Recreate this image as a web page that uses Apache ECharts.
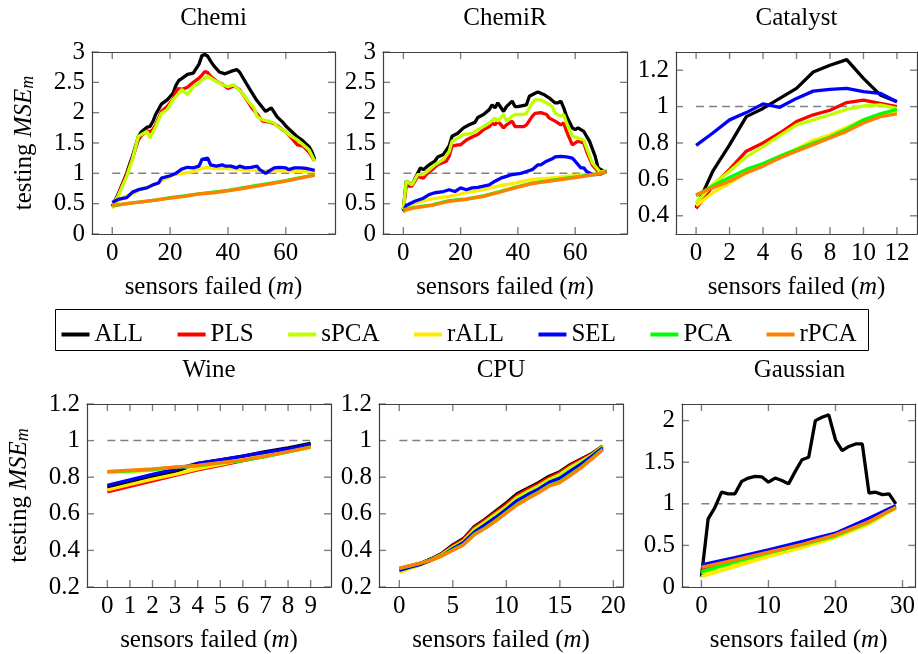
<!DOCTYPE html>
<html>
<head>
<meta charset="utf-8">
<script src="https://cdn.jsdelivr.net/npm/echarts@6/dist/echarts.min.js"></script>
<style>
  html, body { margin: 0; padding: 0; background: #fff; }
  #main { width: 918px; height: 654px; }
</style>
</head>
<body>
<div id="main"></div>
<script>
const methods = ['ALL', 'PLS', 'sPCA', 'rALL', 'SEL', 'PCA', 'rPCA']
const colors = ['#000000', '#ff0000', '#bfff00', '#ffeb00', '#0000ff', '#00ff00', '#ff8000']

// Chemi
const chemiAll = [[0,0.46],[2,0.65],[5,1.0],[6,1.15],[7,1.28],[9,1.6],[10,1.68],[12,1.76],[13,1.77],[14,1.85],[15,1.97],[17,2.14],[19,2.21],[21,2.32],[22,2.45],[23,2.53],[24,2.56],[26,2.63],[28,2.65],[30,2.8],[31,2.94],[32,2.96],[33,2.93],[34,2.85],[35,2.78],[37,2.67],[39,2.64],[41,2.68],[43,2.71],[44,2.67],[46,2.51],[48,2.35],[50,2.2],[52,2.08],[53,2.02],[55,2.08],[57,1.93],[59,1.84],[60,1.78],[62,1.69],[64,1.6],[66,1.53],[68,1.44],[69,1.36],[70,1.23]]
const chemiPls = [[0,0.45],[2,0.64],[5,0.98],[7,1.25],[9,1.55],[10,1.62],[12,1.7],[13,1.68],[14,1.72],[15,1.8],[17,2.02],[19,2.1],[21,2.22],[22,2.35],[23,2.4],[24,2.38],[26,2.42],[28,2.5],[30,2.57],[31,2.62],[32,2.68],[33,2.66],[34,2.6],[36,2.52],[38,2.47],[40,2.4],[42,2.44],[44,2.38],[46,2.25],[48,2.1],[50,1.98],[52,1.86],[54,1.85],[56,1.82],[58,1.75],[60,1.68],[62,1.58],[64,1.47],[66,1.45],[68,1.35],[70,1.2]]
const chemiSpca = [[0,0.48],[2,0.62],[5,0.95],[7,1.23],[9,1.61],[12,1.69],[13,1.58],[15,1.77],[17,1.99],[19,2.05],[21,2.21],[23,2.32],[24,2.38],[26,2.3],[28,2.43],[30,2.49],[31,2.54],[33,2.6],[35,2.54],[37,2.49],[38,2.46],[40,2.43],[42,2.46],[43,2.41],[45,2.32],[47,2.19],[49,2.08],[50,1.94],[52,1.88],[54,1.86],[56,1.83],[57,1.77],[59,1.72],[61,1.64],[63,1.58],[64,1.55],[66,1.47],[68,1.39],[70,1.2]]
const chemiRall = [[0,0.42],[3,0.58],[5,0.63],[7,0.66],[10,0.74],[14,0.8],[17,0.88],[21,0.97],[24,1.0],[28,1.03],[31,1.08],[33,1.1],[35,1.08],[40,1.08],[45,1.06],[50,1.05],[55,1.04],[60,1.04],[65,1.03],[70,1.03]]
const chemiSel = [[0,0.52],[2,0.57],[5,0.6],[7,0.69],[9,0.73],[12,0.76],[14,0.81],[16,0.84],[17,0.92],[20,0.96],[22,1.0],[24,1.07],[26,1.1],[28,1.09],[30,1.12],[31,1.23],[33,1.25],[34,1.14],[36,1.12],[38,1.14],[39,1.12],[41,1.12],[43,1.09],[44,1.12],[46,1.09],[48,1.1],[50,1.12],[51,1.06],[53,1.0],[54,1.03],[56,1.09],[58,1.1],[60,1.09],[61,1.06],[63,1.09],[65,1.09],[67,1.08],[70,1.05]]
const chemiPca = [[0,0.46],[5,0.5],[10,0.53],[15,0.56],[20,0.6],[25,0.63],[30,0.66],[35,0.69],[40,0.72],[45,0.76],[50,0.8],[55,0.84],[60,0.88],[65,0.93],[70,0.97]]
const chemiRpca = [[0,0.47],[5,0.5],[10,0.53],[15,0.56],[20,0.59],[25,0.62],[30,0.66],[35,0.68],[40,0.71],[45,0.75],[50,0.79],[55,0.83],[60,0.87],[65,0.92],[70,0.97]]

// ChemiR
const chemiRAll = [[0,0.4],[1,0.87],[3,0.81],[5,1.0],[6,1.09],[7,1.06],[9,1.14],[11,1.2],[12,1.27],[14,1.31],[16,1.45],[17,1.61],[19,1.66],[21,1.75],[23,1.8],[25,1.84],[26,1.92],[28,1.97],[30,2.05],[31,2.13],[32,2.08],[33,2.16],[35,2.02],[36,2.1],[38,2.19],[39,2.1],[40,2.1],[43,2.13],[44,2.27],[46,2.32],[47,2.34],[49,2.3],[51,2.24],[53,2.16],[54,2.16],[55,2.19],[56,2.08],[57,1.94],[59,1.75],[60,1.72],[61,1.75],[63,1.69],[65,1.53],[67,1.28],[68,1.09],[70,1.03],[71,1.03]]
const chemiRPls = [[0,0.4],[1,0.79],[3,0.79],[5,0.95],[7,0.92],[8,0.98],[10,1.06],[12,1.14],[15,1.2],[16,1.28],[17,1.45],[19,1.47],[20,1.47],[22,1.55],[24,1.6],[26,1.64],[28,1.72],[30,1.77],[31,1.83],[32,1.8],[33,1.86],[35,1.75],[36,1.8],[38,1.86],[39,1.77],[42,1.77],[43,1.8],[45,1.94],[46,1.99],[48,2.0],[50,1.97],[51,1.91],[53,1.86],[55,1.8],[56,1.83],[57,1.69],[59,1.47],[61,1.53],[63,1.5],[64,1.36],[66,1.14],[68,1.03],[70,1.02],[71,1.03]]
const chemiRSpca = [[0,0.4],[1,0.87],[3,0.81],[5,0.98],[7,0.98],[9,1.06],[11,1.14],[14,1.23],[16,1.36],[17,1.53],[19,1.58],[21,1.64],[24,1.66],[26,1.72],[28,1.77],[30,1.83],[32,1.91],[33,1.86],[35,1.97],[36,1.86],[38,1.94],[39,1.97],[42,1.97],[43,1.99],[45,2.16],[46,2.21],[48,2.21],[50,2.16],[52,2.1],[53,1.99],[55,1.94],[56,1.97],[57,1.83],[59,1.61],[61,1.58],[63,1.55],[64,1.42],[66,1.17],[68,1.06],[69,1.0],[71,1.03]]
const chemiRRall = [[0,0.35],[4,0.51],[10,0.58],[16,0.62],[22,0.68],[28,0.73],[33,0.79],[39,0.84],[45,0.9],[51,0.92],[57,0.95],[63,0.98],[68,1.0],[71,1.05]]
const chemiRSel = [[0,0.37],[1,0.47],[4,0.54],[7,0.59],[9,0.65],[11,0.68],[14,0.7],[16,0.73],[18,0.7],[20,0.76],[22,0.73],[24,0.76],[26,0.77],[28,0.79],[30,0.81],[32,0.87],[34,0.92],[36,0.95],[38,0.98],[41,1.0],[43,1.03],[45,1.06],[47,1.14],[48,1.14],[50,1.2],[52,1.24],[53,1.27],[55,1.28],[57,1.27],[59,1.25],[60,1.2],[62,1.09],[63,1.09],[64,1.03],[66,0.98],[67,0.98],[69,0.99],[71,1.03]]
const chemiRPca = [[0,0.4],[4,0.44],[10,0.48],[16,0.55],[22,0.58],[28,0.63],[33,0.69],[39,0.77],[45,0.84],[51,0.88],[57,0.92],[63,0.96],[68,0.99],[71,1.02]]
const chemiRRpca = [[0,0.39],[4,0.43],[10,0.47],[16,0.54],[22,0.57],[28,0.62],[33,0.68],[39,0.76],[45,0.83],[51,0.87],[57,0.91],[63,0.95],[68,0.99],[71,1.02]]

// Catalyst (m = 0..12)
const catAll = [0.445,0.645,0.79,0.945,0.99,1.045,1.1,1.19,1.227,1.258,1.155,1.064,1.027]
const catPls = [0.44,0.564,0.655,0.755,0.8,0.855,0.918,0.955,0.98,1.022,1.036,1.018,1.0]
const catSpca = [0.47,0.573,0.645,0.724,0.78,0.84,0.9,0.927,0.955,0.985,1.004,1.01,0.99]
const catRall = [0.455,0.527,0.58,0.636,0.68,0.727,0.767,0.815,0.845,0.887,0.927,0.945,0.973]
const catSel = [0.787,0.855,0.927,0.967,1.015,0.996,1.045,1.085,1.095,1.1,1.082,1.073,1.027]
const catPca = [0.51,0.564,0.61,0.655,0.687,0.727,0.764,0.8,0.833,0.876,0.927,0.96,0.985]
const catRpca = [0.515,0.555,0.59,0.636,0.673,0.718,0.755,0.79,0.827,0.864,0.91,0.945,0.96]

// Wine (m = 0..9)
const wineAll = [0.745,0.77,0.8,0.83,0.875,0.895,0.915,0.94,0.96,0.985]
const winePls = [0.72,0.75,0.78,0.81,0.84,0.865,0.89,0.915,0.94,0.965]
const wineSpca = [0.825,0.83,0.838,0.85,0.86,0.875,0.895,0.915,0.94,0.965]
const wineRall = [0.73,0.76,0.79,0.816,0.845,0.87,0.895,0.92,0.94,0.962]
const wineSel = [0.756,0.785,0.815,0.843,0.876,0.895,0.915,0.935,0.955,0.98]
const winePca = [0.83,0.835,0.842,0.855,0.862,0.878,0.89,0.912,0.938,0.965]
const wineRpca = [0.83,0.838,0.845,0.855,0.865,0.88,0.895,0.915,0.94,0.965]

// CPU (m = 0..19)
const cpuAll = [0.3,0.315,0.33,0.355,0.385,0.43,0.465,0.53,0.57,0.615,0.66,0.71,0.74,0.77,0.805,0.83,0.87,0.9,0.93,0.97]
const cpuPls = [0.3,0.313,0.328,0.352,0.382,0.425,0.46,0.525,0.565,0.608,0.652,0.7,0.733,0.763,0.798,0.825,0.865,0.895,0.927,0.97]
const cpuSpca = [0.298,0.312,0.327,0.35,0.378,0.418,0.452,0.515,0.555,0.598,0.64,0.69,0.722,0.752,0.788,0.815,0.855,0.888,0.922,0.968]
const cpuRall = [0.28,0.3,0.32,0.345,0.37,0.405,0.435,0.49,0.525,0.565,0.605,0.65,0.685,0.718,0.755,0.78,0.82,0.86,0.905,0.955]
const cpuSel = [0.29,0.308,0.324,0.347,0.372,0.41,0.443,0.5,0.54,0.58,0.625,0.672,0.705,0.735,0.772,0.795,0.835,0.873,0.915,0.96]
const cpuPca = [0.302,0.316,0.33,0.348,0.372,0.402,0.432,0.488,0.522,0.563,0.608,0.652,0.686,0.718,0.755,0.775,0.815,0.855,0.903,0.952]
const cpuRpca = [0.302,0.317,0.331,0.347,0.37,0.4,0.43,0.485,0.52,0.56,0.605,0.648,0.683,0.715,0.752,0.77,0.81,0.852,0.9,0.95]

// Gaussian
const gauAll = [[0,0.125],[1,0.82],[2,0.955],[3,1.14],[4,1.12],[5,1.12],[6,1.27],[7,1.31],[8,1.33],[9,1.325],[10,1.26],[11,1.31],[12,1.28],[13,1.24],[14,1.39],[15,1.53],[16,1.56],[17,2.0],[18,2.04],[19,2.07],[20,1.77],[21,1.64],[22,1.69],[23,1.72],[24,1.72],[25,1.13],[26,1.14],[27,1.11],[28,1.12],[29,1.0]]
const gauPls = [[0,0.2],[5,0.3],[10,0.405],[15,0.505],[20,0.612],[25,0.775],[29,0.955]]
const gauSpca = [[0,0.165],[5,0.285],[10,0.39],[15,0.495],[20,0.605],[25,0.77],[29,0.952]]
const gauRall = [[0,0.125],[5,0.245],[10,0.365],[15,0.474],[20,0.594],[25,0.755],[29,0.95]]
const gauSel = [[0,0.265],[5,0.353],[10,0.446],[15,0.546],[20,0.647],[25,0.827],[29,0.98]]
const gauPca = [[0,0.185],[5,0.305],[10,0.41],[15,0.508],[20,0.615],[25,0.78],[29,0.955]]
const gauRpca = [[0,0.237],[5,0.325],[10,0.418],[15,0.514],[20,0.627],[25,0.787],[29,0.956]]

const FONT = 'Liberation Serif'
const FS = 25

function idx(arr) {
  return arr.map((v, i) => [i, v])
}

const panels = [
  { title: 'Chemi', box: [92, 52, 243, 182], x: [-7, 77, [0, 20, 40, 60]], y: [0, 3, [0, 0.5, 1, 1.5, 2, 2.5, 3]], dash: 70, yName: true,
    data: [chemiAll, chemiPls, chemiSpca, chemiRall, chemiSel, chemiPca, chemiRpca] },
  { title: 'ChemiR', box: [383, 52, 244, 182], x: [-7.1, 78.1, [0, 20, 40, 60]], y: [0, 3, [0, 0.5, 1, 1.5, 2, 2.5, 3]], dash: 71,
    data: [chemiRAll, chemiRPls, chemiRSpca, chemiRRall, chemiRSel, chemiRPca, chemiRRpca] },
  { title: 'Catalyst', box: [676, 52, 241, 182], x: [-1.2, 13.2, [0, 2, 4, 6, 8, 10, 12]], y: [0.3, 1.3, [0.4, 0.6, 0.8, 1, 1.2]], dash: 12,
    data: [catAll, catPls, catSpca, catRall, catSel, catPca, catRpca].map(idx) },
  { title: 'Wine', box: [87, 404, 244, 183], x: [-0.9, 9.9, [0, 1, 2, 3, 4, 5, 6, 7, 8, 9]], y: [0.2, 1.2, [0.2, 0.4, 0.6, 0.8, 1, 1.2]], dash: 9, yName: true,
    data: [wineAll, winePls, wineSpca, wineRall, wineSel, winePca, wineRpca].map(idx) },
  { title: 'CPU', box: [379, 404, 244, 183], x: [-1.9, 20.9, [0, 5, 10, 15, 20]], y: [0.2, 1.2, [0.2, 0.4, 0.6, 0.8, 1, 1.2]], dash: 19,
    data: [cpuAll, cpuPls, cpuSpca, cpuRall, cpuSel, cpuPca, cpuRpca].map(idx) },
  { title: 'Gaussian', box: [682, 404, 235, 183], x: [-2.9, 31.9, [0, 10, 20, 30]], y: [0, 2.2, [0, 0.5, 1, 1.5, 2]], dash: 29,
    data: [gauAll, gauPls, gauSpca, gauRall, gauSel, gauPca, gauRpca] }
]

const labelStyle = { fontFamily: FONT, fontSize: FS, color: '#000' }
const tickColor = '#808080'
const TICK = 7

function frameLine() {
  return { show: true, onZero: false, lineStyle: { color: '#404040', width: 1.2 } }
}

// inward ticks on both opposite edges, placed through the axes' own scales
function tickSeries(i, p, dir) {
  const vals = dir === 'x' ? p.x[2] : p.y[2]
  return {
    type: 'custom',
    xAxisIndex: i * 2,
    yAxisIndex: i * 2,
    silent: true,
    clip: false,
    z: 0,
    data: vals.map(v => dir === 'x' ? [v, p.y[0]] : [p.x[0], v]),
    renderItem: function (params, api) {
      const st = { stroke: tickColor, lineWidth: 1.4 }
      if (dir === 'x') {
        const v = api.value(0)
        const b = api.coord([v, p.y[0]])
        const t = api.coord([v, p.y[1]])
        return { type: 'group', children: [
          { type: 'line', shape: { x1: b[0], y1: b[1], x2: b[0], y2: b[1] - TICK }, style: st },
          { type: 'line', shape: { x1: t[0], y1: t[1], x2: t[0], y2: t[1] + TICK }, style: st }
        ] }
      }
      const v = api.value(1)
      const l = api.coord([p.x[0], v])
      const r = api.coord([p.x[1], v])
      return { type: 'group', children: [
        { type: 'line', shape: { x1: l[0], y1: l[1], x2: l[0] + TICK, y2: l[1] }, style: st },
        { type: 'line', shape: { x1: r[0], y1: r[1], x2: r[0] - TICK, y2: r[1] }, style: st }
      ] }
    }
  }
}

const grid = []
const xAxis = []
const yAxis = []
const series = []
const graphic = []

panels.forEach((p, i) => {
  grid.push({ left: p.box[0], top: p.box[1], width: p.box[2], height: p.box[3] })
  xAxis.push({
    type: 'value', gridIndex: i, min: p.x[0], max: p.x[1],
    position: 'bottom',
    splitLine: { show: false },
    axisLine: frameLine(),
    axisTick: { show: false },
    axisLabel: Object.assign({ customValues: p.x[2], margin: 7 }, labelStyle),
    name: '{a|sensors failed (}{b|m}{a|)}',
    nameLocation: 'middle',
    nameGap: 41,
    nameTextStyle: { rich: { a: labelStyle, b: Object.assign({ fontStyle: 'italic' }, labelStyle) } }
  })
  xAxis.push({
    type: 'value', gridIndex: i, min: p.x[0], max: p.x[1],
    position: 'top',
    splitLine: { show: false },
    axisLine: frameLine(),
    axisTick: { show: false },
    axisLabel: { show: false }
  })
  const yLeft = {
    type: 'value', gridIndex: i, min: p.y[0], max: p.y[1],
    position: 'left',
    splitLine: { show: false },
    axisLine: frameLine(),
    axisTick: { show: false },
    axisLabel: Object.assign({ customValues: p.y[2], margin: 7 }, labelStyle)
  }
  if (p.yName) {
    yLeft.name = '{a|testing }{b|MSE}{c|m}'
    yLeft.nameLocation = 'middle'
    yLeft.nameRotate = 90
    yLeft.nameGap = 55
    yLeft.nameTextStyle = {
      rich: {
        a: Object.assign({ lineHeight: 25, verticalAlign: 'top' }, labelStyle),
        b: Object.assign({ lineHeight: 25, verticalAlign: 'top', fontStyle: 'italic' }, labelStyle),
        c: { fontFamily: FONT, fontSize: 18, fontStyle: 'italic', color: '#000', lineHeight: 18, verticalAlign: 'bottom', padding: [10, 0, 0, 0] }
      }
    }
  }
  yAxis.push(yLeft)
  yAxis.push({
    type: 'value', gridIndex: i, min: p.y[0], max: p.y[1],
    position: 'right',
    splitLine: { show: false },
    axisLine: frameLine(),
    axisTick: { show: false },
    axisLabel: { show: false }
  })

  series.push(tickSeries(i, p, 'x'))
  series.push(tickSeries(i, p, 'y'))

  // reference line at 1
  series.push({
    type: 'line',
    xAxisIndex: i * 2,
    yAxisIndex: i * 2,
    data: [[0, 1], [p.dash, 1]],
    symbol: 'none',
    silent: true,
    lineStyle: { color: '#808080', width: 1.5, type: [8, 5] },
    z: 1
  })
  p.data.forEach((d, k) => {
    series.push({
      name: methods[k],
      type: 'line',
      xAxisIndex: i * 2,
      yAxisIndex: i * 2,
      data: d,
      symbol: 'none',
      color: colors[k],
      lineStyle: { color: colors[k], width: 3.3 },
      z: 2 + k
    })
  })

  graphic.push({
    type: 'text',
    x: p.box[0] + p.box[2] / 2,
    y: p.box[1] - 34,
    style: { text: p.title, font: FS + 'px "Liberation Serif"', fill: '#000', textAlign: 'center', textVerticalAlign: 'middle' }
  })
})

graphic.push({
  type: 'rect',
  shape: { x: 55.5, y: 309.5, width: 813, height: 41 },
  style: { fill: 'none', stroke: '#000', lineWidth: 1 }
})

const option = {
  animation: false,
  backgroundColor: '#fff',
  grid: grid,
  xAxis: xAxis,
  yAxis: yAxis,
  legend: {
    data: methods.map((m, k) => ({ name: m, icon: 'rect', itemStyle: { color: colors[k] } })),
    left: 'center',
    top: 317,
    itemWidth: 28,
    itemHeight: 4,
    itemGap: 34.5,
    textStyle: labelStyle
  },
  graphic: graphic,
  series: series
}

const myChart = echarts.init(document.getElementById('main'))
myChart.setOption(option)
</script>
</body>
</html>
